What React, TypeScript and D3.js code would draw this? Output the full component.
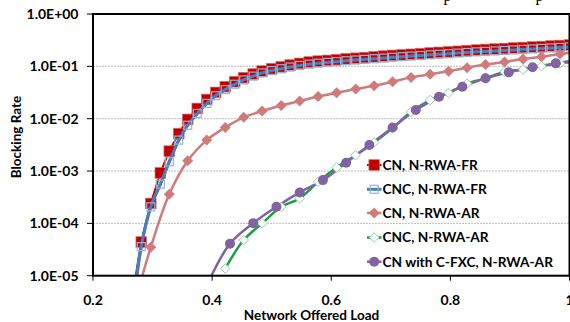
import React from "react";
import * as d3 from "d3";

const yTickValues = [1e-5, 1e-4, 1e-3, 1e-2, 1e-1, 1];
const yTickLabels = ["1.0E-05", "1.0E-04", "1.0E-03", "1.0E-02", "1.0E-01", "1.0E+00"];
const xTickValues = [0.2, 0.4, 0.6, 0.8, 1.0];
const xTickLabels = ["0.2", "0.4", "0.6", "0.8", "1"];

const frLoads = [0.266, 0.281, 0.297, 0.313, 0.328, 0.344, 0.359, 0.375, 0.391, 0.406, 0.422, 0.438, 0.453, 0.469, 0.484, 0.5, 0.516, 0.531, 0.547, 0.563, 0.578, 0.594, 0.609, 0.625, 0.641, 0.656, 0.672, 0.688, 0.703, 0.719, 0.734, 0.75, 0.766, 0.781, 0.797, 0.813, 0.828, 0.844, 0.859, 0.875, 0.891, 0.906, 0.922, 0.938, 0.953, 0.969, 0.984, 1.0];
const cnFr = [4e-6, 4.4e-5, 2.4e-4, 9.2e-4, 2.4e-3, 5.2e-3, 9.7e-3, 1.57e-2, 2.33e-2, 3.18e-2, 4.08e-2, 5.08e-2, 6.07e-2, 7.13e-2, 8.13e-2, 9.0e-2, 9.8e-2, 0.106, 0.114, 0.121, 0.126, 0.130, 0.134, 0.139, 0.143, 0.147, 0.152, 0.157, 0.162, 0.166, 0.170, 0.175, 0.180, 0.185, 0.189, 0.194, 0.200, 0.205, 0.210, 0.214, 0.219, 0.224, 0.229, 0.234, 0.239, 0.245, 0.250, 0.256];
const cncFr = [2e-6, 3.6e-5, 2.07e-4, 5.6e-4, 1.5e-3, 3.9e-3, 7.5e-3, 1.26e-2, 1.96e-2, 2.75e-2, 3.6e-2, 4.55e-2, 5.5e-2, 6.5e-2, 7.5e-2, 8.3e-2, 9.0e-2, 9.7e-2, 0.104, 0.110, 0.115, 0.119, 0.123, 0.128, 0.132, 0.136, 0.140, 0.144, 0.149, 0.153, 0.157, 0.161, 0.166, 0.170, 0.174, 0.179, 0.184, 0.189, 0.193, 0.197, 0.201, 0.206, 0.211, 0.215, 0.220, 0.225, 0.230, 0.235];

const arLoads = [0.266, 0.297, 0.328, 0.359, 0.391, 0.422, 0.453, 0.484, 0.516, 0.547, 0.578, 0.609, 0.641, 0.672, 0.703, 0.734, 0.766, 0.797, 0.828, 0.859, 0.891, 0.922, 0.953, 0.984, 1.016];
const cnAr = [2e-6, 3.5e-5, 3.6e-4, 1.57e-3, 3.9e-3, 6.8e-3, 1.06e-2, 1.40e-2, 1.79e-2, 2.17e-2, 2.65e-2, 3.13e-2, 3.68e-2, 4.26e-2, 5.08e-2, 6.15e-2, 7.03e-2, 8.1e-2, 9.4e-2, 0.108, 0.121, 0.138, 0.153, 0.172, 0.19];

const cncArLoads = [0.422, 0.453, 0.484, 0.516, 0.547, 0.578, 0.609, 0.641, 0.672, 0.703, 0.734, 0.766, 0.797, 0.828, 0.859, 0.891, 0.922, 0.953, 0.984, 1.016];
const cncAr = [1.37e-5, 4.8e-5, 1.0e-4, 2.07e-4, 3.0e-4, 6.2e-4, 1.17e-3, 2.0e-3, 3.5e-3, 6.6e-3, 1.35e-2, 2.27e-2, 3.1e-2, 4.7e-2, 5.9e-2, 7.9e-2, 8.7e-2, 0.101, 0.114, 0.125];

const fxcLoads = [0.391, 0.430, 0.469, 0.508, 0.547, 0.586, 0.625, 0.664, 0.703, 0.742, 0.781, 0.820, 0.859, 0.898, 0.938, 0.977, 1.016];
const fxcAr = [6.5e-6, 4.1e-5, 1.01e-4, 2.07e-4, 3.9e-4, 6.7e-4, 1.44e-3, 3.13e-3, 6.8e-3, 1.46e-2, 2.62e-2, 4.07e-2, 5.9e-2, 7.67e-2, 9.57e-2, 0.114, 0.135];

const legendLabels = ["CN, N-RWA-FR", "CNC, N-RWA-FR", "CN, N-RWA-AR", "CNC, N-RWA-AR", "CN with C-FXC, N-RWA-AR"];

const W = 570;
const H = 322;
const L = 93;
const R = 569.5;
const T = 14;
const B = 275.7;
const FONT = "Lato, 'Open Sans', sans-serif";

type Pt = [number, number];

function Marker({ kind, x, y }: { kind: string; x: number; y: number }) {
  if (kind === "sq") return <rect x={x - 5.3} y={y - 5.3} width={10.6} height={10.6} fill="#C00000" stroke="#D66A6A" strokeWidth={0.7} />;
  if (kind === "osq") return <rect x={x - 4} y={y - 4} width={8} height={8} fill="none" stroke="#95B3D7" strokeWidth={1.2} />;
  if (kind === "dia") return <path d={`M${x},${y - 5.5}L${x + 5.5},${y}L${x},${y + 5.5}L${x - 5.5},${y}Z`} fill="#CF7B7B" />;
  if (kind === "odia") return <path d={`M${x},${y - 4.8}L${x + 4.8},${y}L${x},${y + 4.8}L${x - 4.8},${y}Z`} fill="white" stroke="#8ED49F" strokeWidth={1} />;
  return <circle cx={x} cy={y} r={5} fill="#8064A2" />;
}

export default function App() {
  const x = d3.scaleLinear().domain([0.2, 1.0]).range([L, R]);
  const y = d3.scaleLog().domain([1e-5, 1]).range([B, T]);

  const mk = (xs: number[], ys: number[]): Pt[] => xs.map((v, i) => [x(v), y(ys[i])] as Pt);
  const lineLin = d3.line<Pt>().curve(d3.curveLinear);
  const lineSmooth = d3.line<Pt>().curve(d3.curveCatmullRom.alpha(0.5));

  const series = [
    { pts: mk(frLoads, cnFr), color: "#C00000", w: 2, marker: "sq", smooth: false },
    { pts: mk(frLoads, cncFr), color: "#4A7EBB", w: 3, marker: "osq", smooth: true },
    { pts: mk(arLoads, cnAr), color: "#CF7B7B", w: 2.5, marker: "dia", smooth: true },
    { pts: mk(cncArLoads, cncAr), color: "#1E9C48", w: 2.5, marker: "odia", smooth: true },
    { pts: mk(fxcLoads, fxcAr), color: "#8064A2", w: 2.5, marker: "circ", smooth: true },
  ];

  const inside = (p: Pt) => p[0] >= L - 1 && p[0] <= R + 6 && p[1] <= B + 1 && p[1] >= T - 1;

  const legendY = [165, 189.3, 213, 237.5, 261.7];

  return (
    <svg width={W} height={H} style={{ position: "absolute", left: 0, top: 0, background: "white" }} fontFamily={FONT}>
      <defs>
        <clipPath id="plotclip">
          <rect x={L} y={T} width={R - L} height={B - T} />
        </clipPath>
      </defs>
      <rect x={0} y={0} width={W} height={H} fill="white" />
      {/* clipped caption glyphs above chart */}
      <text x={443.5} y={1} fontFamily="'Liberation Serif', serif" fontSize={16} fill="#000">p</text>
      <text x={535.5} y={1} fontFamily="'Liberation Serif', serif" fontSize={16} fill="#000">p</text>

      {/* gridlines */}
      {yTickValues.slice(1, 5).map((v) => (
        <line key={v} x1={L} x2={R} y1={y(v)} y2={y(v)} stroke="#BDBDBD" strokeWidth={1} strokeDasharray="2,1" />
      ))}

      {/* series lines */}
      <g clipPath="url(#plotclip)">
        {series.map((s, i) => (
          <path key={i} d={(s.smooth ? lineSmooth : lineLin)(s.pts) || ""} fill="none" stroke={s.color} strokeWidth={s.w} strokeLinejoin="round" />
        ))}
      </g>
      {series.map((s, i) => (
        <g key={"m" + i}>
          {s.pts.filter(inside).map((p, j) => (
            <Marker key={j} kind={s.marker} x={p[0]} y={p[1]} />
          ))}
          {i === 0 ? (
            <path d={lineSmooth(series[1].pts) || ""} fill="none" stroke="#4A7EBB" strokeWidth={3} clipPath="url(#plotclip)" />
          ) : null}
        </g>
      ))}

      {/* plot border */}
      <rect x={L} y={T} width={R - L} height={B - T} fill="none" stroke="#000" strokeWidth={2} />

      {/* y axis ticks & labels */}
      {yTickValues.map((v, i) => (
        <g key={"yt" + i}>
          <line x1={L - 6} x2={L} y1={y(v)} y2={y(v)} stroke="#000" strokeWidth={1} />
          <text x={78.5} y={y(v)} dy="0.36em" textAnchor="end" fontSize={14} fontWeight="bold" fill="#000">
            {yTickLabels[i]}
          </text>
        </g>
      ))}
      {/* x axis ticks & labels */}
      {xTickValues.map((v, i) => (
        <g key={"xt" + i}>
          <line x1={x(v)} x2={x(v)} y1={B} y2={B + 5} stroke="#000" strokeWidth={1} />
          <text x={x(v)} y={304.5} textAnchor="middle" fontSize={14} fontWeight="bold" fill="#000">
            {xTickLabels[i]}
          </text>
        </g>
      ))}

      {/* axis titles */}
      <text x={311.5} y={319.5} textAnchor="middle" fontSize={13.5} fontWeight="bold" fill="#000">
        Network Offered Load
      </text>
      <text transform="translate(20.5,137) rotate(-90)" textAnchor="middle" fontSize={13.5} fontWeight="bold" fill="#000">
        Blocking Rate
      </text>

      {/* legend */}
      {series.map((s, i) => (
        <g key={"lg" + i}>
          <line x1={367} x2={381.5} y1={legendY[i]} y2={legendY[i]} stroke={s.color} strokeWidth={s.w} />
          <Marker kind={s.marker} x={374.2} y={legendY[i]} />
          <text x={382.5} y={legendY[i]} dy="0.36em" fontSize={13.7} fontWeight="bold" fill="#000">
            {legendLabels[i]}
          </text>
        </g>
      ))}
    </svg>
  );
}
